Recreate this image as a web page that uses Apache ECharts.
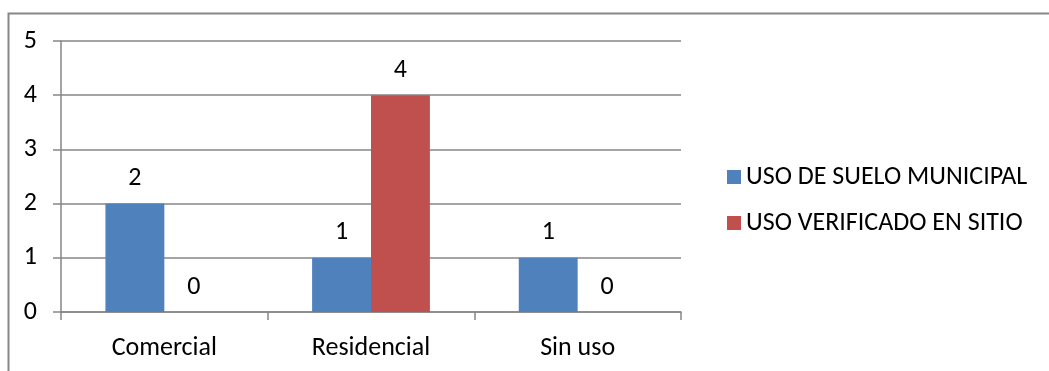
<!DOCTYPE html>
<html>
<head>
<meta charset="utf-8">
<script src="https://cdn.jsdelivr.net/npm/echarts@6/dist/echarts.min.js"></script>
<style>
  html, body { margin: 0; padding: 0; background: #fff; }
  #chart { width: 1049px; height: 371px; }
</style>
</head>
<body>
<div id="chart"></div>
<script>
const categories = ["Comercial", "Residencial", "Sin uso"];
const usoMunicipal = [2, 1, 1];
const usoVerificado = [0, 4, 0];
const seriesNames = ["USO DE SUELO MUNICIPAL", "USO VERIFICADO EN SITIO"];

const FONT = "Carlito, Lato, sans-serif";
const FS = 26;
const axisGray = "#868686";

const chart = echarts.init(document.getElementById("chart"), null, { renderer: "canvas" });

const labelCfg = {
  show: true, position: "top", distance: 12,
  color: "#000", fontFamily: FONT, fontSize: FS,
};

chart.setOption({
  animation: false,
  graphic: [{
    type: "rect", left: 6, top: 11, silent: true,
    shape: { width: 1100, height: 400 },
    style: { fill: "none", stroke: "#878787", lineWidth: 2 },
  }],
  grid: { left: 61, top: 41, width: 620, height: 271 },
  legend: {
    orient: "vertical", left: 722, top: 159,
    itemWidth: 14, itemHeight: 14, itemGap: 20,
    icon: "rect",
    textStyle: { fontFamily: FONT, fontSize: FS, color: "#000", padding: [0, 0, 0, 0] },
    data: seriesNames,
  },
  xAxis: {
    type: "category", data: categories,
    axisLine: { lineStyle: { color: axisGray, width: 1.5 } },
    axisTick: { show: true, length: 8, alignWithLabel: false, lineStyle: { color: axisGray, width: 1.5 } },
    axisLabel: { color: "#000", fontFamily: FONT, fontSize: FS, margin: 23 },
  },
  yAxis: {
    type: "value", min: 0, max: 5, interval: 1,
    axisLine: { show: true, lineStyle: { color: axisGray, width: 1.5 } },
    axisTick: { show: true, length: 8, lineStyle: { color: axisGray, width: 1.5 } },
    axisLabel: { color: "#000", fontFamily: FONT, fontSize: FS, margin: 24 },
    splitLine: { lineStyle: { color: axisGray, width: 1.5 } },
  },
  series: [
    {
      name: seriesNames[0], type: "bar", data: usoMunicipal,
      barGap: "0%", barCategoryGap: "43%",
      itemStyle: { color: "#4F81BD" }, label: labelCfg,
    },
    {
      name: seriesNames[1], type: "bar", data: usoVerificado,
      itemStyle: { color: "#C0504D" }, label: labelCfg,
    },
  ],
});
</script>
</body>
</html>
